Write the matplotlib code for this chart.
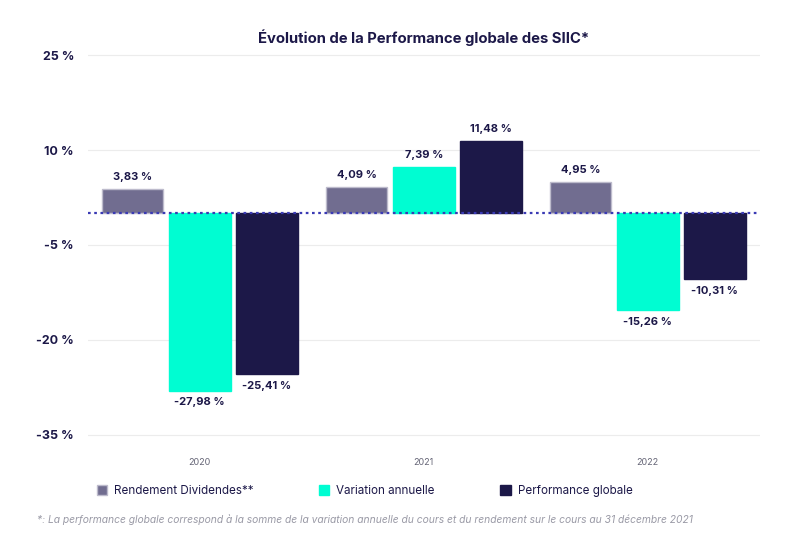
import matplotlib
matplotlib.use("Agg")
import matplotlib.pyplot as plt
import numpy as np
from matplotlib.patches import Patch

plt.rcParams['font.family'] = ['Inter', 'DejaVu Sans']

years = ['2020', '2021', '2022']
series_names = ['Rendement Dividendes**', 'Variation annuelle', 'Performance globale']
dividendes = [3.83, 4.09, 4.95]
variation = [-27.98, 7.39, -15.26]
performance = [-25.41, 11.48, -10.31]
y_ticks = [25, 10, -5, -20, -35]

navy = '#1c1848'
colors = ['#716d90', '#00fdd2', navy]
edges = ['#bdbbcc', '#00fdd2', navy]

fig = plt.figure(figsize=(7.98, 5.41), dpi=100)
ax = fig.add_axes([0.110, 0.1843, 0.842, 0.7257])

x = np.arange(len(years))
step = 0.3
width = 0.275

for i, vals in enumerate([dividendes, variation, performance]):
    bars = ax.bar(x + (i - 1) * step, vals, width, color=colors[i],
                  edgecolor=edges[i], linewidth=1, zorder=2)
    labels = [('%.2f' % v).replace('.', ',') + ' %' for v in vals]
    ax.bar_label(bars, labels=labels, padding=5, fontsize=8, fontweight='bold',
                 color=navy)

ax.axhline(0, color='#3a3ab4', linestyle=(0, (1.2, 1.6)), linewidth=1.6, zorder=3)

ax.set_xlim(-0.5, 2.5)
ax.set_ylim(-36, 26)
ax.set_yticks(y_ticks)
ax.set_yticklabels(['%d %%' % t for t in y_ticks], fontsize=9, fontweight='bold',
                   color=navy)
ax.set_xticks(x)
ax.set_xticklabels(years, fontsize=6.5, color='#666677')
ax.tick_params(axis='y', length=0, pad=10)
ax.tick_params(axis='x', length=0, pad=12)
ax.grid(axis='y', color='#ececec', linewidth=0.8, zorder=0)
for s in ax.spines.values():
    s.set_visible(False)

fig.text(0.5307, 1 - 38 / 541, 'Évolution de la Performance globale des SIIC*',
         ha='center', va='center', fontsize=10.7, fontweight='bold', color=navy)

handles = [Patch(facecolor=colors[i], edgecolor=edges[i]) for i in range(3)]
fig.legend(handles, series_names, loc='center left', ncol=3,
           bbox_to_anchor=(86 / 798, 1 - 491 / 541), frameon=False,
           fontsize=8.4, handlelength=0.9, handleheight=0.9, handletextpad=0.6,
           columnspacing=5.6, labelcolor=navy)

fig.text(37 / 798, 1 - 520 / 541,
         '*: La performance globale correspond à la somme de la variation annuelle '
         'du cours et du rendement sur le cours au 31 décembre 2021',
         ha='left', va='center', fontsize=7.4, style='italic', color='#9a9aa6')

fig.savefig('out.png', dpi=100, facecolor='white')
